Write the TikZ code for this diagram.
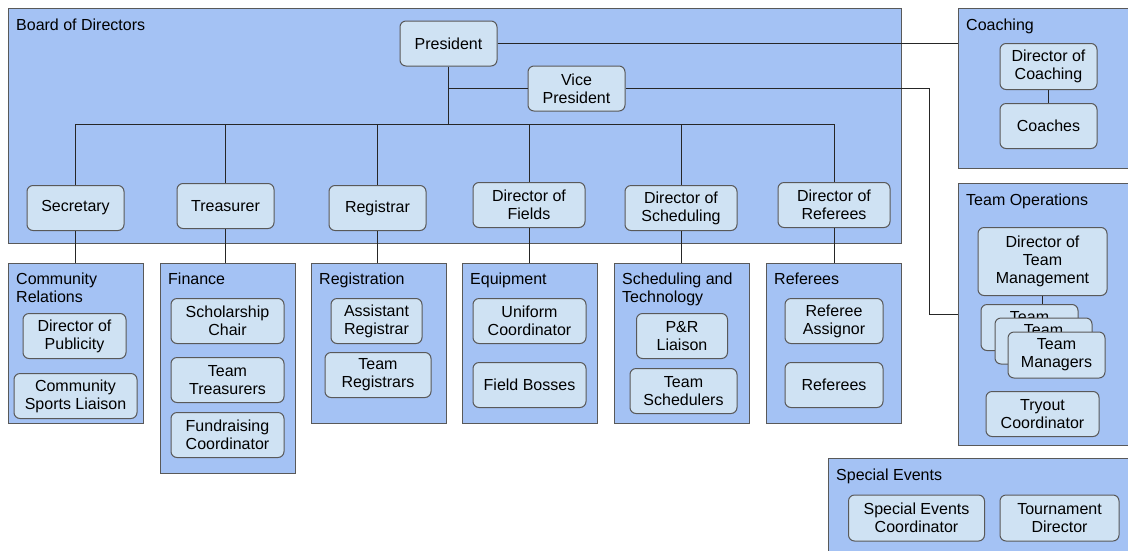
\documentclass[tikz,border=0pt]{standalone}
\usepackage{fontspec}
\setmainfont{Liberation Sans}
\usepackage{xcolor}
\usepackage{tikz}
\usetikzlibrary{positioning, calc}
\definecolor{grpblue}{HTML}{A4C2F4}
\definecolor{roleblue}{HTML}{CFE2F3}
\definecolor{edgegray}{HTML}{595959}
\newcommand{\rolefont}{\fontsize{16}{18}\selectfont}

\begin{document}
\begin{tikzpicture}[x=1pt, y=-1pt,
        group/.style={rectangle, draw=edgegray, fill=grpblue, line width=1.1pt, anchor=north west, inner sep=0pt},
        grptitle/.style={anchor=north west, align=left, font=\rolefont, inner sep=0pt},
        role/.style={rectangle, rounded corners=6pt, draw=edgegray, fill=roleblue, line width=1pt, font=\rolefont, align=center, minimum width=97pt, minimum height=45pt, inner sep=0pt},
        link/.style={draw=black!85, line width=0.9pt}
    ]
        \useasboundingbox (0,0) rectangle (1128,550);

        % Group panels
        \node[group, minimum width=893pt, minimum height=235pt] (board) at (8,8) {};
        \node[grptitle, below right=11pt and 8pt of board.north west] {Board of Directors};
        \node[group, minimum width=175pt, minimum height=160pt] (coach) at (958,8) {};
        \node[grptitle, below right=11pt and 8pt of coach.north west] {Coaching};
        \node[group, minimum width=175pt, minimum height=262pt] (ops) at (958,183) {};
        \node[grptitle, below right=11pt and 8pt of ops.north west] {Team Operations};
        \node[group, minimum width=305pt, minimum height=100pt] (spev) at (828,458) {};
        \node[grptitle, below right=11pt and 8pt of spev.north west] {Special Events};

        \foreach \n/\x/\h/\t in {comm/8/160/{Community\\Relations}, fin/160/210/Finance, regn/311/160/Registration,
                                 equ/462/160/Equipment, schg/614/160/{Scheduling and\\Technology}, refg/766/160/Referees} {
            \node[group, minimum width=135pt, minimum height=\h pt] (\n) at (\x,263) {};
            \node[grptitle, below right=10pt and 8pt of \n.north west] {\t};
        }

        % Board of Directors
        \node[role] (pres) at (448.5,43.5) {President};
        \node[role] (vp) at (576.5,88.5) {Vice\\President};
        \node[role] (sec) at (75.5,208) {Secretary};
        \node[role] (tre) at (225.5,206) {Treasurer};
        \node[role] (reg) at (377.5,208) {Registrar};
        \node[role, minimum width=112pt] (fld) at (529,205) {Director of\\Fields};
        \node[role, minimum width=112pt] (sch) at (681,208) {Director of\\Scheduling};
        \node[role, minimum width=112pt] (ref) at (834,205) {Director of\\Referees};

        % Committees
        \node[role, minimum width=103pt] (pub) at (74.5,336) {Director of\\Publicity};
        \node[role, minimum width=123pt] (csl) at (75.5,396) {Community\\Sports Liaison};
        \node[role, minimum width=113pt] (sc) at (227.5,321) {Scholarship\\Chair};
        \node[role, minimum width=113pt] (tt) at (227.5,380) {Team\\Treasurers};
        \node[role, minimum width=113pt] (fc) at (227.5,435) {Fundraising\\Coordinator};
        \node[role, minimum width=91pt] (ar) at (376.5,321) {Assistant\\Registrar};
        \node[role, minimum width=106pt] (tr) at (378,375) {Team\\Registrars};
        \node[role, minimum width=113pt] (uc) at (529.5,321) {Uniform\\Coordinator};
        \node[role, minimum width=113pt] (fb) at (529.5,385) {Field Bosses};
        \node[role, minimum width=91pt] (prl) at (682,336) {P\&R\\Liaison};
        \node[role, minimum width=107pt] (ts) at (683.5,391) {Team\\Schedulers};
        \node[role, minimum width=98pt] (ra) at (834,321) {Referee\\Assignor};
        \node[role, minimum width=98pt] (refs) at (834,385) {Referees};

        % Coaching and Team Operations
        \node[role, minimum height=46pt] (dc) at (1048.5,66.5) {Director of\\Coaching};
        \node[role] (coaches) at (1048.5,126) {Coaches};
        \node[role, minimum width=129pt, minimum height=68pt] (dtm) at (1042.5,261.5) {Director of\\Team\\Management};
        \draw[link] (dtm.south) -- ++(0,9);
        \node[role, minimum height=46pt] (tm1) at (1029.5,327.5) {Team\\Managers};
        \node[role, minimum height=46pt] (tm2) at (1043.5,341) {Team\\Managers};
        \node[role, minimum height=46pt] (tm3) at (1056.5,355) {Team\\Managers};
        \node[role, minimum width=113pt] (tc) at (1042.5,414) {Tryout\\Coordinator};

        % Special Events
        \node[role, minimum width=136pt, minimum height=46pt] (sec2) at (916.5,518) {Special Events\\Coordinator};
        \node[role, minimum width=119pt, minimum height=46pt] (td) at (1059.5,518) {Tournament\\Director};

        % Connectors
        \coordinate (bus) at (448.5,124);
        \coordinate (vpbend) at (929,314);
        \draw[link] (pres) -- (bus);
        \draw[link] (vp.west) -- (vp.west -| pres);
        \foreach \d/\g in {sec/comm, tre/fin, reg/regn, fld/equ, sch/schg, ref/refg} {
            \draw[link] (bus) -| (\d.north);
            \draw[link] (\d.south) -- (\d.south |- \g.north);
        }
        \draw[link] (pres.east) -- (pres.east -| coach.west);
        \draw[link] (vp.east) -| (vpbend) -- (vpbend -| ops.west);
        \draw[link] (dc) -- (coaches);
    \end{tikzpicture}
\end{document}
